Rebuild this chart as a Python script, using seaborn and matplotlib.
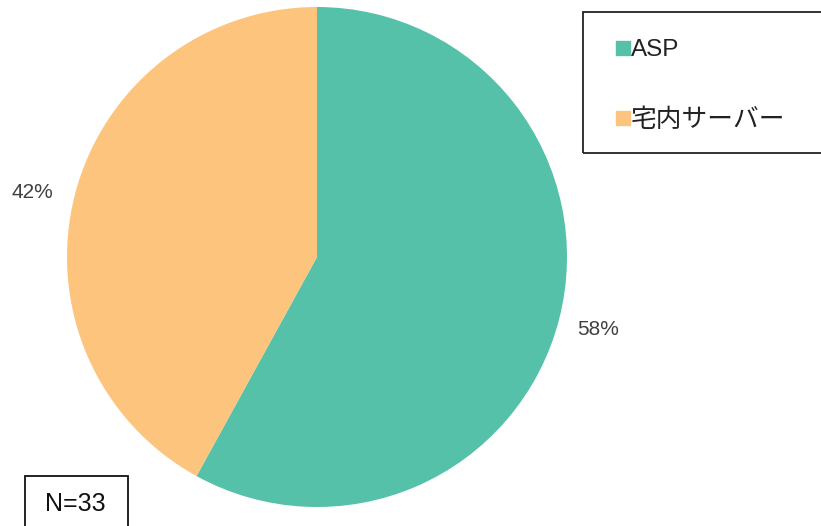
import matplotlib
matplotlib.use("Agg")
import matplotlib.pyplot as plt
from matplotlib.patches import Rectangle
from matplotlib.lines import Line2D
import seaborn as sns

categories = ["ASP", "宅内サーバー"]
values = [58, 42]
pct_labels = ["58%", "42%"]
colors = ["#55C1A9", "#FDC47D"]
n_label = "N=33"

sns.set_theme(style="white")
plt.rcParams['font.family'] = ['Liberation Sans', 'Noto Sans CJK JP', 'DejaVu Sans']

W, H = 821, 526
fig = plt.figure(figsize=(W / 100, H / 100), dpi=100)
fig.patch.set_facecolor("white")

# pie axes: center (317,257) px, radius 250 px
cx, cy, r = 317, 257, 250
ax = fig.add_axes([(cx - r) / W, (H - cy - r) / H, 2 * r / W, 2 * r / H])
wedges, texts = ax.pie(values, colors=colors, startangle=90, counterclock=False,
                       labels=pct_labels, labeldistance=1.16,
                       wedgeprops=dict(linewidth=0),
                       textprops=dict(fontsize=15, color="#404040"))
for t in texts:
    t.set_ha("center")
    t.set_va("center")
# slight nudge of the left label to match reference placement
x1, y1 = texts[1].get_position()
texts[1].set_position((x1 * 1.015, y1 - 0.03))
ax.set_xlim(-1, 1)
ax.set_ylim(-1, 1)
ax.set_aspect("equal")
ax.axis("off")

# legend box
fig.patches.append(Rectangle((583 / W, (H - 153) / H), (830 - 583) / W, (153 - 12) / H,
                             transform=fig.transFigure, fill=False, edgecolor="#222222",
                             linewidth=1.3, clip_on=False))
handles = [Line2D([0], [0], marker="s", linestyle="none", markersize=9.5,
                  markerfacecolor=c, markeredgecolor=c) for c in colors]
leg = fig.legend(handles, categories, loc="upper left",
                 bbox_to_anchor=(616 / W, (H - 39) / H), frameon=False,
                 fontsize=18, handlelength=0.55, handletextpad=0.05,
                 labelspacing=1.85, borderpad=0, borderaxespad=0)
for t in leg.get_texts():
    t.set_color("#222222")
leg.get_texts()[0].set_fontsize(17.5)
leg.get_texts()[1].set_fontsize(18.5)

# N box
fig.patches.append(Rectangle((25 / W, -0.02), (128 - 25) / W, (H - 476) / H + 0.02,
                             transform=fig.transFigure, fill=False, edgecolor="#111111",
                             linewidth=1.3, clip_on=False))
fig.text(75.5 / W, (H - 504) / H, n_label, ha="center", va="center", fontsize=18,
         color="#111111")

fig.savefig("out.png", dpi=100)
